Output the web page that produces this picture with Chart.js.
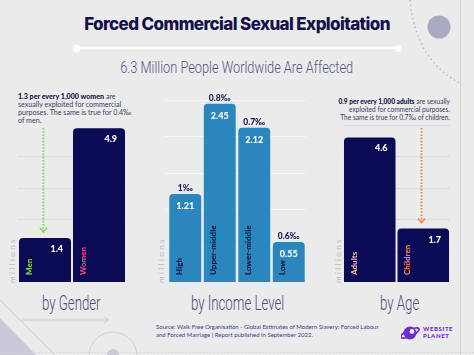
<!DOCTYPE html>
<html><head><meta charset="utf-8">
<script src="https://cdn.jsdelivr.net/npm/chart.js@4.4.1/dist/chart.umd.min.js"></script>
<style>
html,body{margin:0;padding:0}
body{width:474px;height:355px;background:#ebebeb;overflow:hidden;position:relative;font-family:Lato,"Open Sans",sans-serif}
.abs{position:absolute}
canvas{position:absolute}
#title{left:0;width:474px;top:14px;text-align:center;font-family:Inter,sans-serif;font-weight:800;font-size:17px;letter-spacing:-0.6px;color:#13124a}
#rule{left:76px;top:47px;width:322px;height:2px;background:#fff}
.dot{width:7px;height:7px;border-radius:50%;background:#fff;top:44.5px}
.hand{font-family:Roboto,"DejaVu Sans",sans-serif;font-weight:300;color:#575489;white-space:nowrap;transform-origin:center top}
#sub{left:0;width:474px;top:58px;text-align:center;font-size:16px}
#sub span{display:inline-block;transform:scaleX(0.8)}
.by{font-size:20px;top:291px;text-align:center;color:#4f4c82}
.by span{display:inline-block;transform:scaleX(0.66)}
.note{font-size:6.6px;line-height:7.9px;color:#3d3c66;white-space:nowrap}
.note b{color:#13124a;font-weight:900}
.mil{font-size:8px;letter-spacing:2.4px;color:#b7b7bf;transform:rotate(-90deg);transform-origin:left top;white-space:nowrap}
#src{left:156px;top:323px;font-size:6px;line-height:7.5px;color:#3b3a86;white-space:nowrap}
#logo{left:401px;top:325px}
</style></head>
<body>
<svg class="abs" style="left:0;top:0" width="474" height="355">
  <line x1="460.5" y1="0" x2="460.5" y2="355" stroke="#d3d3d6" stroke-width="1"/>
  <path d="M410,0 Q416,62 462,84" fill="none" stroke="#b9b9c9" stroke-width="1.5" stroke-dasharray="1.5,3"/>
  <circle cx="439" cy="27" r="11.5" fill="#a9a9c4"/>
  <polygon points="0,318 36,355 0,355" fill="#c9c9d8"/>
  <line x1="0" y1="300" x2="55" y2="355" stroke="#c9c9d8" stroke-width="1"/>
  <line x1="22" y1="320" x2="108" y2="320" stroke="#c9c9d8" stroke-width="1"/>
  <polyline points="104,317 109,320 104,323" fill="none" stroke="#c9c9d8" stroke-width="1"/>
  <circle cx="113" cy="356" r="24" fill="none" stroke="#d0d0d8" stroke-width="1"/>
  <circle cx="113" cy="355" r="6" fill="#c9c9d8"/>
  <line x1="0" y1="352.5" x2="474" y2="352.5" stroke="#d3d3d8" stroke-width="1" stroke-dasharray="1.5,2"/>
</svg>
<div id="title" class="abs">Forced Commercial Sexual Exploitation</div>
<div id="rule" class="abs"></div>
<div class="abs dot" style="left:73px"></div>
<div class="abs dot" style="left:395px"></div>
<div id="sub" class="abs hand"><span>6.3 Million People Worldwide Are Affected</span></div>

<div class="abs note" style="left:18px;top:93px;font-size:7.1px"><b>1.3 per every 1,000 women</b> are<br>sexually exploited for commercial<br>purposes. The same is true for 0.4‰<br>of men.</div>
<div class="abs note" style="left:330px;top:98px;width:120px;text-align:right"><b>0.9 per every 1,000 adults</b> are sexually<br>exploited for commercial purposes.<br>The same is true for 0.7‰ of children.</div>

<div class="abs mil" style="left:7px;top:283px">millions</div>
<div class="abs mil" style="left:156px;top:283px">millions</div>
<div class="abs mil" style="left:333px;top:283px">millions</div>

<canvas id="cGender" width="140" height="210" style="left:0;top:80px"></canvas>
<canvas id="cIncome" width="170" height="210" style="left:150px;top:80px"></canvas>
<canvas id="cAge" width="140" height="210" style="left:330px;top:80px"></canvas>

<div class="abs hand by" style="left:20px;width:102px"><span>by Gender</span></div>
<div class="abs hand by" style="left:167px;width:140px"><span>by Income Level</span></div>
<div class="abs hand by" style="left:350px;width:100px"><span>by Age</span></div>

<div id="src" class="abs">Source: Walk Free Organisation - Global Estimates of Modern Slavery: Forced Labour<br>and Forced Marriage | Report published in September 2022.</div>
<div id="logo" class="abs">
  <svg width="60" height="16" style="position:absolute;left:0;top:0">
    <circle cx="9" cy="8" r="6.5" fill="#6b2bd6"/>
    <ellipse cx="9" cy="8" rx="10" ry="3.2" fill="none" stroke="#6b2bd6" stroke-width="1.6" transform="rotate(-25 9 8)"/>
    <circle cx="11" cy="6.5" r="2.4" fill="#ebebeb"/>
  </svg>
  <div style="position:absolute;left:22px;top:1px;font-family:Lato,sans-serif;font-weight:900;font-size:6px;line-height:6.6px;letter-spacing:0.6px;color:#6b2bd6;white-space:nowrap">WEBSITE<br>PLANET</div>
</div>

<script>
// ---- data ----
const genderCategories = ['Men', 'Women'];
const genderValues = [1.4, 4.9];
const genderGrid = [1, 2, 3, 4];

const incomeCategories = ['High', 'Upper-middle', 'Lower-middle', 'Low'];
const incomeValues = [1.21, 2.45, 2.12, 0.55];
const incomeRates = ['1‰', '0.8‰', '0.7‰', '0.6‰'];
const incomeGrid = [0.5, 1, 1.5, 2, 2.5];

const ageCategories = ['Adults', 'Children'];
const ageValues = [4.6, 1.7];
const ageGrid = [1, 2, 3, 4, 5];

const NAVY = '#0a0a55';
const BLUE = '#2a86bd';

const decorPlugin = {
  id: 'decor',
  beforeDatasetsDraw(chart, args, o) {
    const ctx = chart.ctx, y = chart.scales.y, a = chart.chartArea;
    ctx.save();
    ctx.strokeStyle = o.gridColor; ctx.lineWidth = 1;
    o.grid.forEach(v => {
      const py = Math.round(y.getPixelForValue(v)) + 0.5;
      ctx.beginPath(); ctx.moveTo(a.left + (o.gridInset || 0), py); ctx.lineTo(a.right, py); ctx.stroke();
    });
    ctx.restore();
  },
  afterDatasetsDraw(chart, args, o) {
    const ctx = chart.ctx, meta = chart.getDatasetMeta(0);
    const labels = chart.data.labels, vals = chart.data.datasets[0].data;
    ctx.save();
    meta.data.forEach((bar, i) => {
      const left = bar.x - bar.width / 2, right = bar.x + bar.width / 2;
      ctx.fillStyle = '#ffffff';
      ctx.font = '900 9px Lato, sans-serif';
      ctx.textBaseline = 'middle';
      if (o.valueAlign === 'right') { ctx.textAlign = 'right'; ctx.fillText(String(vals[i]), right - 8, bar.y + 11); }
      else { ctx.textAlign = 'center'; ctx.fillText(String(vals[i]), bar.x, bar.y + 12); }
      if (o.rates) {
        ctx.fillStyle = '#1b1a55'; ctx.font = '900 8.5px Lato, sans-serif';
        ctx.textAlign = 'center'; ctx.textBaseline = 'alphabetic';
        ctx.fillText(o.rates[i], bar.x, bar.y - 3);
      }
      ctx.save();
      ctx.translate(left + 10, bar.base - 7);
      ctx.rotate(-Math.PI / 2);
      ctx.fillStyle = o.catColors[i];
      ctx.font = '900 8px Lato, sans-serif';
      ctx.textAlign = 'left'; ctx.textBaseline = 'middle';
      ctx.fillText(labels[i], 0, 0);
      ctx.restore();
    });
    if (o.arrow) {
      const bar = meta.data[o.arrow.index];
      const x = Math.round(bar.x - 2) + 0.5, y0 = o.arrow.fromY, y1 = bar.y - 6;
      ctx.strokeStyle = o.arrow.color; ctx.lineWidth = 2;
      ctx.setLineDash([1.6, 1.6]);
      ctx.beginPath(); ctx.moveTo(x, y0); ctx.lineTo(x, y1); ctx.stroke();
      ctx.setLineDash([]);
      ctx.lineWidth = 1.6;
      ctx.beginPath(); ctx.moveTo(x - 3.5, y1 - 4); ctx.lineTo(x, y1); ctx.lineTo(x + 3.5, y1 - 4); ctx.stroke();
    }
    ctx.restore();
  }
};

function makeChart(id, cats, vals, color, max, pad, barPct, decor) {
  return new Chart(document.getElementById(id), {
    type: 'bar',
    data: { labels: cats, datasets: [{ data: vals, backgroundColor: color,
      borderRadius: { topLeft: 4, topRight: 4, bottomLeft: 0, bottomRight: 0 }, borderSkipped: 'start',
      barPercentage: barPct, categoryPercentage: 1 }] },
    options: {
      responsive: false, animation: false, devicePixelRatio: 1,
      layout: { padding: pad },
      plugins: { legend: { display: false }, tooltip: { enabled: false }, decor: decor },
      scales: {
        x: { display: false },
        y: { display: false, min: 0, max: max }
      }
    },
    plugins: [decorPlugin]
  });
}

makeChart('cGender', genderCategories, genderValues, NAVY, 5,
  { left: 18, right: 14, top: 45, bottom: 8 }, 0.963,
  { grid: genderGrid, gridColor: '#dcdcdf', valueAlign: 'right',
    catColors: ['#7ed957', '#f0507a'], arrow: { index: 0, fromY: 48, color: '#7ed957' } });

makeChart('cIncome', incomeCategories, incomeValues, BLUE, 2.5,
  { left: 18, right: 14, top: 20, bottom: 8 }, 0.925,
  { grid: incomeGrid, gridColor: '#f6f6f6', gridInset: -3, valueAlign: 'center', rates: incomeRates,
    catColors: ['#13124a', '#13124a', '#13124a', '#13124a'] });

makeChart('cAge', ageCategories, ageValues, NAVY, 5,
  { left: 13, right: 20, top: 45, bottom: 8 }, 0.963,
  { grid: ageGrid, gridColor: '#dcdcdf', valueAlign: 'right',
    catColors: ['#f7c08c', '#f08a5b'], arrow: { index: 1, fromY: 48, color: '#f08a4b' } });
</script>
</body></html>
